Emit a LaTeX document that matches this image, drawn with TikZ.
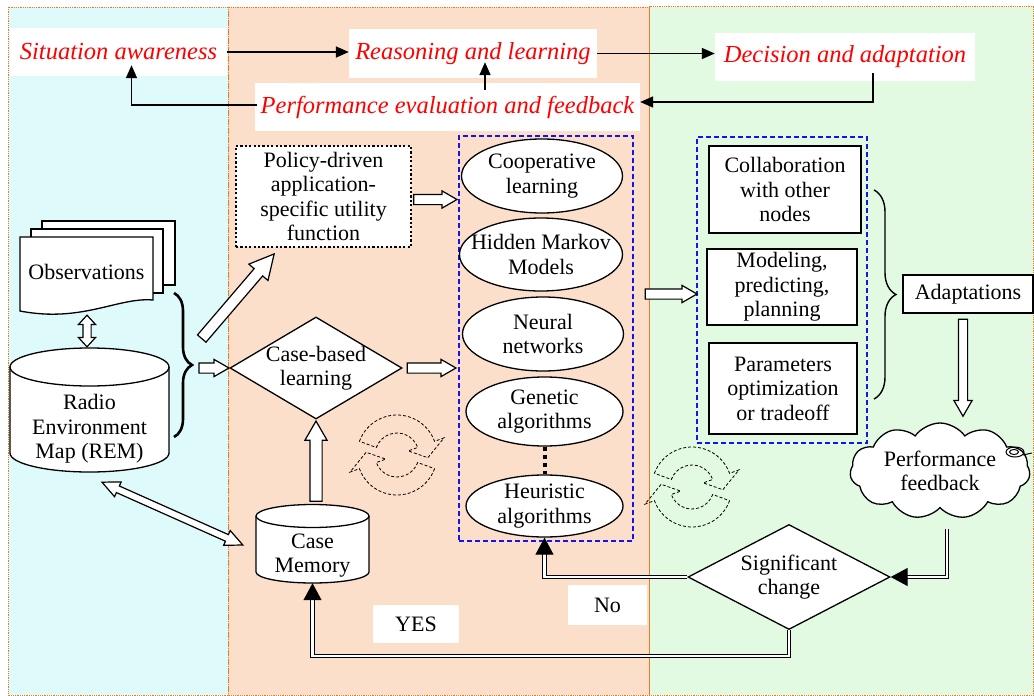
\documentclass[tikz,border=0pt]{standalone}
\usepackage{fontspec}
\setmainfont{Liberation Serif}
\usetikzlibrary{shapes.geometric,shapes.symbols,shapes.arrows,arrows.meta,calc,decorations.pathreplacing}
\definecolor{pcyan}{RGB}{222,250,250}
\definecolor{porange}{RGB}{251,223,202}
\definecolor{pgreen}{RGB}{226,250,226}
\definecolor{pborder}{RGB}{240,120,30}
\definecolor{lblred}{RGB}{255,0,0}
\definecolor{grpblue}{RGB}{20,20,235}
\newcommand{\harr}[4]{\path let \p1=($#4-#3$), \n1={veclen(\x1,\y1)}, \n2={atan2(\y1,\x1)} in node[#2, name=#1, minimum height=\n1, rotate=\n2, anchor=tail] at #3 {};}
\newcommand{\darr}[4]{\path let \p1=($#4-#3$), \n1={veclen(\x1,\y1)}, \n2={atan2(\y1,\x1)} in node[#2, name=#1, minimum height=\n1, rotate=\n2, anchor=center] at ($#3!0.5!#4$) {};}
\begin{document}
\begin{tikzpicture}[x=1pt,y=-1pt,
 txt/.style={font=\fontsize{22}{24.5}\selectfont, align=center},
 redlbl/.style={font=\fontsize{24.5}{28}\selectfont\itshape, text=lblred, fill=white, inner sep=0pt},
 box/.style={rectangle, draw, line width=1.3pt, fill=white, inner sep=0pt, txt},
 shp/.style={draw, line width=1.3pt, fill=white, inner sep=0pt},
 grpbox/.style={draw=grpblue, line width=1.3pt, dash pattern=on 5pt off 3pt, inner sep=0pt},
 topar/.style={line width=1.6pt, -{Triangle[length=13pt,width=11pt]}},
 dbl/.style={line width=1.2pt, double=white, double distance=2.2pt},
 dbltip/.style={-{Triangle[length=17pt,width=18pt]}},
 harrow/.style 2 args={single arrow, draw, fill=white, line width=1.2pt, inner xsep=0pt, inner ysep=#1, minimum width=0pt, single arrow head extend=#2, single arrow tip angle=60},
 darrow/.style 2 args={double arrow, draw, fill=white, line width=1.2pt, inner xsep=0pt, inner ysep=#1, minimum width=0pt, double arrow head extend=#2, double arrow tip angle=50},
 panel/.style={draw=pborder, line width=0.8pt, densely dotted},
 refresh/.pic={
  \draw[line width=0.8pt, densely dashed] (160:40pt) arc (160:20:40pt) -- (20:50pt) -- (-5:31pt) -- (20:12pt) -- (20:22pt) arc (20:160:22pt) -- cycle;
  \draw[line width=0.8pt, densely dashed] (-20:40pt) arc (-20:-160:40pt) -- (200:50pt) -- (175:31pt) -- (200:12pt) -- (200:22pt) arc (200:340:22pt) -- cycle;
 }
]
\useasboundingbox (0,0) rectangle (1034,696);
\fill[white] (0,0) rectangle (1034,696);
% panels
\fill[pcyan] (8,7) rectangle (228,695);
\fill[porange] (228,7) rectangle (649,695);
\fill[pgreen] (649,6) rectangle (1034,695);
\draw[panel] (8,7) rectangle (228,695);
\draw[panel] (228,7) rectangle (649,695);
\draw[panel] (649,6) rectangle (1033.5,695);

% top labels
\node[redlbl, minimum width=217, minimum height=48] (sa) at (118.5,52) {Situation awareness};
\node[redlbl, minimum width=248, minimum height=49] (rl) at (473,53.5) {Reasoning and learning};
\node[redlbl, minimum width=260, minimum height=48] (da) at (845,57) {Decision and adaptation};
\node[redlbl, minimum width=385, minimum height=48] (pef) at (447.5,107) {Performance evaluation and feedback};
\draw[topar] (sa.east) -- (sa.east -| rl.west);
\draw[topar] (rl.east) -- (rl.east -| da.west);
\draw[topar] ($(da.south)+(28,-8)$) |- ($(pef.east)+(0,-5)$);
\draw[topar] ($(pef.north)+(37.5,7)$) -- ($(rl.south)+(12,-16)$);
\draw[topar] ($(pef.west)+(2,-2)$) -| ($(sa.south)+(13,-11)$);

% groups
\node[grpbox, minimum width=174, minimum height=405] (grp) at (546,338.5) {};
\node[grpbox, minimum width=170, minimum height=306] (grp2) at (782,290) {};

% observations
\draw[shp] (42,221) rectangle (175,285);
\draw[shp] (31,229) rectangle (163,293);
\draw[shp] (20,237) -- (153,237) -- (153,300) .. controls (118,297) and (82,323) .. (20,311) -- cycle;
\node[txt, minimum width=133, minimum height=78, inner sep=0pt] (obs) at (86.5,272) {Observations};

% REM cylinder
\draw[shp] (10,367) -- (10,453) arc[start angle=180, end angle=360, x radius=79.5pt, y radius=19pt] -- (169,367);
\draw[shp] (89.5,367) ellipse [x radius=79.5pt, y radius=19pt];
\node[txt, minimum width=159, minimum height=86, inner sep=0pt] (rem) at (89.5,429) {Radio\\Environment\\Map (REM)};

% Case memory cylinder
\draw[shp] (256,516) -- (256,572) arc[start angle=180, end angle=360, x radius=56.5pt, y radius=11pt] -- (369,516);
\draw[shp] (312.5,516) ellipse [x radius=56.5pt, y radius=11.5pt];
\node[txt, minimum width=113, minimum height=55, inner sep=0pt] (cm) at (312.5,555.5) {Case\\Memory};

% policy box
\node[box, line width=2.2pt, dash pattern=on 2.2pt off 2.2pt, minimum width=175, minimum height=101] (policy) at (323.5,196.5) {Policy-driven\\application-\\specific utility\\function};

% diamonds
\node[shp, diamond, minimum width=172, minimum height=102, label={[txt]center:{Case-based\\learning}}] (cbl) at (316,368) {};
\node[shp, diamond, minimum width=202, minimum height=105, label={[txt]center:{Significant\\change}}] (sig) at (789,577) {};

% ellipses
\node[shp, ellipse, minimum width=161, minimum height=74, label={[txt]center:{Cooperative\\learning}}] (coop) at (542,176) {};
\node[shp, ellipse, minimum width=163, minimum height=73, label={[txt]center:{Hidden Markov\\Models}}] (hmm) at (541,254.5) {};
\node[shp, ellipse, minimum width=161, minimum height=74, label={[txt]center:{Neural\\networks}}] (nn) at (543,334) {};
\node[shp, ellipse, minimum width=157, minimum height=69, label={[txt]center:{Genetic\\algorithms}}] (ga) at (544.5,411.5) {};
\node[shp, ellipse, minimum width=157, minimum height=62, label={[txt]center:{Heuristic\\algorithms}}] (ha) at (544.5,506) {};
\draw[line width=4pt, dash pattern=on 4pt off 4pt] (ga.south) -- (ha.north);

% right boxes
\node[box, minimum width=152, minimum height=87] (collab) at (785,189.5) {Collaboration\\with other\\nodes};
\node[box, minimum width=150, minimum height=76] (model) at (782,287) {Modeling,\\predicting,\\planning};
\node[box, minimum width=148, minimum height=91] (param) at (783,388.5) {Parameters\\optimization\\or tradeoff};
\node[box, minimum width=130, minimum height=38] (adapt) at (968,294) {Adaptations};

% braces
\draw[line width=2.6pt, decorate, decoration={brace, amplitude=18pt}] (174,293) -- (174,437);
\draw[line width=1.4pt, decorate, decoration={brace, amplitude=22pt}] (874,190) -- (874,399);

% cloud
\node[shp, cloud, cloud puffs=11, cloud puff arc=110, aspect=1.8, minimum width=180, minimum height=96, label={[txt]center:{Performance\\feedback}}] (cloud) at (940,471) {};
\draw[line width=1pt] (1015,452) ellipse [x radius=9pt, y radius=5pt];
\draw[line width=1pt] (1014,452) ellipse [x radius=4.5pt, y radius=2.5pt];
\draw[line width=1pt] (1023,455) -- (1032,453);

% refresh icons
\pic at (397,455) {refresh};
\pic at (692,487) {refresh};

% labels
\node[fill=white, txt, minimum width=79, minimum height=40, inner sep=0pt] (no) at (607.5,605) {No};
\node[fill=white, txt, minimum width=86, minimum height=38, inner sep=0pt] (yes) at (416,624) {YES};

% hollow arrows
\coordinate (a1s) at ($(policy.east)+(1,3)$);
\coordinate (a1e) at ($(grp.west |- a1s)+(-2,0)$);
\coordinate (a2s) at ($(cbl.east)+(4,0)$);
\coordinate (a2e) at ($(grp.west |- a2s)+(-3,0)$);
\coordinate (a3s) at ($(grp.east |- grp2.west)+(11,4)$);
\coordinate (a3e) at ($(grp2.west)+(0,4)$);
\coordinate (a4s) at ($(cbl.west)+(-31,0)$);
\coordinate (a4e) at ($(cbl.west)+(-1,0)$);
\coordinate (a5s) at ($(cbl.west)+(-28,-29)$);
\coordinate (a5e) at ($(policy.south)+(-49.5,6)$);
\coordinate (a6s) at ($(cbl.south |- cm.north)+(0,-26)$);
\coordinate (a6e) at ($(cbl.south)+(0,2)$);
\coordinate (a7s) at ($(adapt.south)+(-5,5)$);
\coordinate (a7e) at ($(a7s)+(0,97)$);
\coordinate (b1s) at ($(obs.south)+(0.5,4)$);
\coordinate (b1e) at ($(rem.north)+(-2.5,-39)$);
\coordinate (b2s) at ($(rem.south)+(12.5,10)$);
\coordinate (b2e) at ($(cm.west)+(-13,-10.5)$);
\harr{h1}{harrow={4.5pt}{3.5pt}}{(a1s)}{(a1e)}
\harr{h2}{harrow={4.5pt}{3.5pt}}{(a2s)}{(a2e)}
\harr{h3}{harrow={4.5pt}{3.5pt}}{(a3s)}{(a3e)}
\harr{h4}{harrow={4.5pt}{3.5pt}}{(a4s)}{(a4e)}
\harr{h5}{harrow={5pt}{7pt}, single arrow tip angle=55}{(a5s)}{(a5e)}
\harr{h6}{harrow={5.5pt}{5pt}}{(a6s)}{(a6e)}
\harr{h7}{harrow={4pt}{4.5pt}}{(a7s)}{(a7e)}
\darr{d1}{darrow={3.5pt}{4.5pt}, double arrow tip angle=85}{(b1s)}{(b1e)}
\darr{d2}{darrow={3pt}{4.5pt}}{(b2s)}{(b2e)}

% double-line connectors
\coordinate (c1) at (947,529);
\draw[dbl, dbltip] (c1) |- (sig.east);
\draw[dbl, dbltip] (sig.west) -| (ha.south);
\draw[dbl, dbltip] (sig.south) -- ++(0,26) -| (cm.south);
\end{tikzpicture}
\end{document}
